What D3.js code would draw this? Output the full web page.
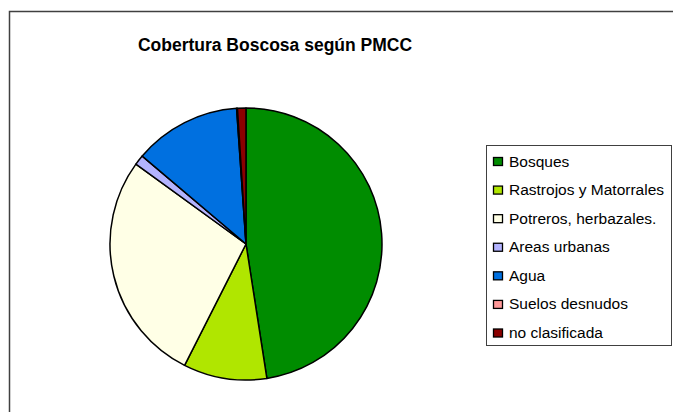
<!DOCTYPE html>
<html>
<head>
<meta charset="utf-8">
<script src="https://cdn.jsdelivr.net/npm/d3@7/dist/d3.min.js"></script>
<style>
  body { margin: 0; background: #fff; }
  text { font-family: "Liberation Sans", Arial, sans-serif; }
</style>
</head>
<body>
<div id="chart"></div>
<script>
// chart data
var categories = ["Bosques", "Rastrojos y Matorrales", "Potreros, herbazales.",
                  "Areas urbanas", "Agua", "Suelos desnudos", "no clasificada"];
var values = [47.5, 9.9, 27.5, 1.2, 12.7, 0.1, 1.0];
var colors = ["#008c00", "#b0e600", "#ffffe6", "#b3b3ff", "#0070e0", "#ff9999", "#8b0000"];
var title = "Cobertura Boscosa según PMCC";

var width = 673, height = 412;

var svg = d3.select("#chart").append("svg")
    .attr("width", width)
    .attr("height", height);

// outer frame (cut off on right and bottom)
svg.append("rect")
    .attr("x", 9.5).attr("y", 11.5)
    .attr("width", 700).attr("height", 450)
    .attr("fill", "#fff")
    .attr("stroke", "#404040")
    .attr("stroke-width", 1.5);

svg.append("text")
    .attr("x", 275).attr("y", 51)
    .attr("text-anchor", "middle")
    .style("font-size", "17.5px")
    .style("font-weight", "bold")
    .text(title);

var data = categories.map(function (c, i) {
  return { name: c, value: values[i], color: colors[i] };
});

var pie = d3.pie().sort(null).value(function (d) { return d.value; });
var arc = d3.arc().innerRadius(0).outerRadius(136);

var pieG = svg.append("g")
    .attr("transform", "translate(246,244)");

pieG.selectAll("path")
    .data(pie(data))
    .enter()
    .append("path")
    .attr("d", arc)
    .attr("fill", function (d) { return d.data.color; })
    .attr("stroke", "#000")
    .attr("stroke-width", 1.5)
    .attr("stroke-linejoin", "round");

// legend
var legend = svg.append("g");
legend.append("rect")
    .attr("x", 486.5).attr("y", 145.5)
    .attr("width", 185).attr("height", 200)
    .attr("fill", "#fff")
    .attr("stroke", "#404040")
    .attr("stroke-width", 1);

var rowY = d3.scalePoint().domain(categories).range([161.5, 333]);

var item = legend.selectAll("g.item")
    .data(data)
    .enter()
    .append("g")
    .attr("class", "item")
    .attr("transform", function (d) { return "translate(0," + rowY(d.name) + ")"; });

item.append("rect")
    .attr("x", 493.5).attr("y", -4)
    .attr("width", 9).attr("height", 8)
    .attr("fill", function (d) { return d.color; })
    .attr("stroke", "#000")
    .attr("stroke-width", 1.3);

item.append("text")
    .attr("x", 509).attr("y", 5)
    .style("font-size", "15.5px")
    .text(function (d) { return d.name; });
</script>
</body>
</html>
